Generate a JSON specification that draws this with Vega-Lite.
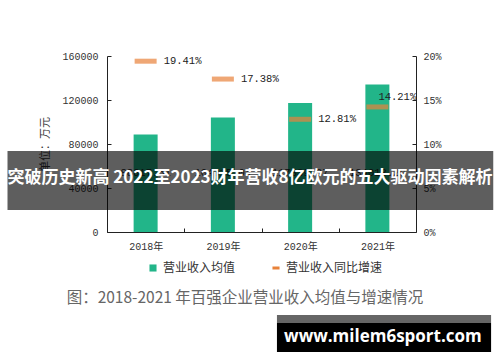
{
  "$schema": "https://vega.github.io/schema/vega-lite/v6.json",
  "width": 309,
  "height": 176,
  "autosize": {"type": "none"},
  "padding": {"left": 107, "top": 56, "right": 84, "bottom": 130},
  "background": "white",
  "config": {"view": {"stroke": null}, "font": "Noto Sans CJK SC"},
  "datasets": {
    "rev": [
      {"year": "2018年", "revenue": 88617.51, "growth": 0.1941},
      {"year": "2019年", "revenue": 104015.04, "growth": 0.1738},
      {"year": "2020年", "revenue": 117339.37, "growth": 0.1281},
      {"year": "2021年", "revenue": 134013.29, "growth": 0.1421}
    ],
    "one": [{}]
  },
  "layer": [
    {
      "data": {"name": "rev"},
      "encoding": {
        "x": {
          "field": "year",
          "type": "ordinal",
          "scale": {"paddingInner": 0, "paddingOuter": 0},
          "axis": {
            "title": null,
            "labelAngle": 0,
            "domainColor": "#222",
            "tickColor": "#222",
            "tickSize": -4,
            "tickOffset": -38.625,
            "labelOffset": 38.625,
            "labelPadding": 13,
            "labelFont": "Liberation Mono, Noto Sans CJK SC",
            "labelFontSize": 10,
            "labelColor": "#333"
          }
        }
      },
      "layer": [
        {
          "encoding": {
            "y": {
              "field": "revenue",
              "type": "quantitative",
              "scale": {"domain": [0, 160000]},
              "axis": {
                "title": "单位：万元",
                "values": [0, 40000, 80000, 120000, 160000],
                "format": "d",
                "grid": false,
                "tickSize": -4,
                "labelPadding": 13,
                "domainColor": "#222",
                "tickColor": "#222",
                "labelFont": "Liberation Mono",
                "labelFontSize": 10,
                "labelColor": "#333",
                "titleFont": "Noto Sans CJK SC",
                "titleFontSize": 11,
                "titleFontWeight": "normal",
                "titleColor": "#333",
                "titlePadding": 11
              }
            }
          },
          "layer": [
            {
              "mark": {"type": "bar", "size": 24},
              "encoding": {
                "color": {
                  "datum": "营业收入均值",
                  "scale": {"domain": ["营业收入均值", "营业收入同比增速"], "range": ["#22b589", "#e8823a"]},
                  "legend": {
                    "orient": "none",
                    "legendX": 40,
                    "legendY": 206,
                    "direction": "horizontal",
                    "title": null,
                    "labelFont": "Noto Sans CJK SC",
                    "labelFontSize": 12,
                    "labelColor": "#333",
                    "symbolSize": 50,
                    "columnPadding": 30,
                    "labelOffset": 4,
                    "symbolStrokeWidth": 3,
                    "encode": {
                      "symbols": {
                        "update": {
                          "shape": {"signal": "datum.value === '营业收入均值' ? 'square' : 'stroke'"},
                          "strokeWidth": {"signal": "datum.value === '营业收入均值' ? 0 : 3"},
                          "stroke": {"scale": "color", "field": "value"}
                        }
                      }
                    }
                  }
                }
              }
            },
            {
              "mark": {"type": "text", "font": "Liberation Mono", "fontSize": 10.5, "color": "#222", "baseline": "middle"},
              "encoding": {
                "y": {"datum": 53600, "type": "quantitative"},
                "text": {"field": "revenue", "type": "quantitative", "format": ".2f"}
              }
            }
          ]
        },
        {
          "encoding": {
            "y": {
              "field": "growth",
              "type": "quantitative",
              "scale": {"domain": [0, 0.2]},
              "axis": {
                "orient": "right",
                "title": null,
                "values": [0, 0.05, 0.1, 0.15, 0.2],
                "format": ".0%",
                "grid": false,
                "tickSize": -4,
                "labelPadding": 11,
                "domainColor": "#222",
                "tickColor": "#222",
                "labelFont": "Liberation Mono",
                "labelFontSize": 10,
                "labelColor": "#333"
              }
            }
          },
          "layer": [
            {
              "mark": {"type": "tick", "size": 22, "thickness": 5},
              "encoding": {"color": {"datum": "营业收入同比增速"}}
            },
            {
              "transform": [{"filter": "datum.year !== '2021年'"}],
              "mark": {"type": "text", "font": "Liberation Mono", "fontSize": 10.5, "color": "#222", "align": "left", "baseline": "middle", "dx": 18},
              "encoding": {"text": {"field": "growth", "type": "quantitative", "format": ".2%"}}
            },
            {
              "transform": [{"filter": "datum.year === '2021年'"}],
              "mark": {"type": "text", "font": "Liberation Mono", "fontSize": 10.5, "color": "#222", "align": "left", "baseline": "middle", "dx": 1, "dy": -10},
              "encoding": {"text": {"field": "growth", "type": "quantitative", "format": ".2%"}}
            }
          ]
        }
      ],
      "resolve": {"scale": {"y": "independent"}}
    },
    {
      "data": {"name": "one"},
      "encoding": {
        "x": {"datum": 0, "type": "quantitative", "scale": {"domain": [0, 1]}, "axis": null},
        "y": {"datum": 0, "type": "quantitative", "scale": {"domain": [0, 160000]}, "axis": null}
      },
      "layer": [
        {
          "mark": {"type": "rect", "color": "#000", "opacity": 0.63, "clip": false},
          "encoding": {
            "x": {"datum": -0.322, "type": "quantitative"},
            "x2": {"datum": 1.25},
            "y": {"datum": 20000, "type": "quantitative"},
            "y2": {"datum": 73600}
          }
        },
        {
          "mark": {"type": "text", "color": "white", "fontWeight": "bold", "fontSize": 17, "font": "Noto Sans CJK SC", "baseline": "middle", "align": "center"},
          "encoding": {
            "x": {"datum": 0.4628, "type": "quantitative"},
            "y": {"datum": 49100, "type": "quantitative"},
            "text": {"value": "突破历史新高 2022至2023财年营收8亿欧元的五大驱动因素解析"}
          }
        },
        {
          "mark": {"type": "text", "color": "#666", "fontSize": 15.5, "font": "Noto Sans CJK SC", "baseline": "middle", "align": "center"},
          "encoding": {
            "x": {"datum": 0.4466, "type": "quantitative"},
            "y": {"datum": -60000, "type": "quantitative"},
            "text": {"value": "图：2018-2021 年百强企业营业收入均值与增速情况"}
          }
        },
        {
          "mark": {"type": "rect", "color": "#666", "clip": false},
          "encoding": {
            "x": {"datum": 0.55, "type": "quantitative"},
            "x2": {"datum": 1.243},
            "y": {"datum": -75450, "type": "quantitative"},
            "y2": {"datum": -82730}
          }
        },
        {
          "mark": {"type": "rect", "color": "#000", "clip": false},
          "encoding": {
            "x": {"datum": 0.55, "type": "quantitative"},
            "x2": {"datum": 1.243},
            "y": {"datum": -82730, "type": "quantitative"},
            "y2": {"datum": -109100}
          }
        },
        {
          "mark": {"type": "text", "color": "white", "fontWeight": "bold", "fontSize": 17, "font": "Open Sans", "baseline": "middle", "align": "center"},
          "encoding": {
            "x": {"datum": 0.893, "type": "quantitative"},
            "y": {"datum": -95450, "type": "quantitative"},
            "text": {"value": "www.milem6sport.com"}
          }
        }
      ]
    }
  ],
  "resolve": {"scale": {"x": "independent", "y": "independent"}}
}
